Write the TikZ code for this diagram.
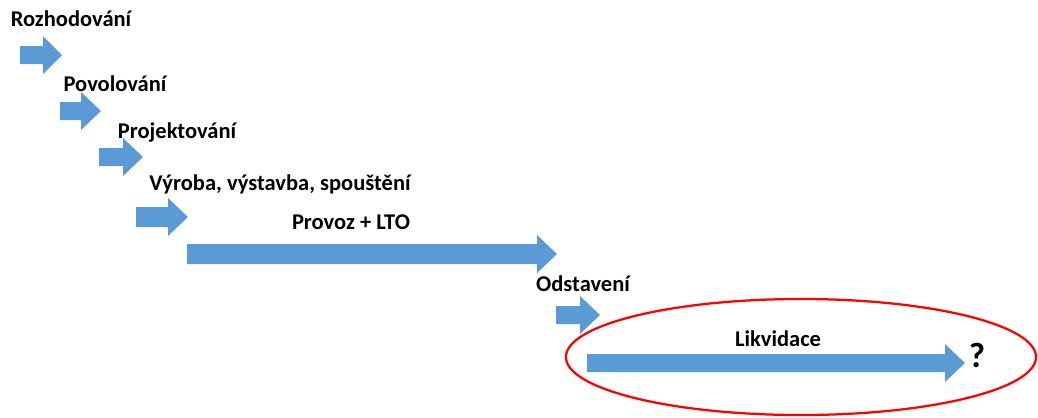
\documentclass[tikz,border=0pt]{standalone}
\usepackage{fontspec}
\setmainfont{Carlito}
\usepackage{tikz,xcolor}
\usetikzlibrary{shapes.geometric}
\definecolor{phaseblue}{RGB}{91,155,213}
\tikzset{
  phase/.style={fill=phaseblue},
  lbl/.style={font=\bfseries\fontsize{16}{19}\selectfont, inner sep=0pt}
}

\begin{document}
\begin{tikzpicture}[x=0.025cm,y=-0.025cm]
  \useasboundingbox (0,0) rectangle (1038,417);

  % Phase labels
  \node[lbl] (rozh) at (71,19) {Rozhodování};
  \node[lbl] (povo) at (115,84) {Povolování};
  \node[lbl] (proj) at (177,132) {Projektování};
  \node[lbl] (vyro) at (280,184) {Výroba, výstavba, spouštění};
  \node[lbl] (prov) at (351,222) {Provoz + LTO};
  \node[lbl] (odst) at (583,284) {Odstavení};
  \node[lbl] (likv) at (778,339) {Likvidace};
  \node[lbl,font=\bfseries\fontsize{25}{28}\selectfont] (otaz) at (977,355) {?};

  % Short arrows
  \fill[phase] (20,46) -- (43,46) -- (43,36) -- (62,55) -- (43,74) -- (43,64) -- (20,64) -- cycle;
  \fill[phase] (60,102) -- (81,102) -- (81,92) -- (101,111) -- (81,130) -- (81,120) -- (60,120) -- cycle;
  \fill[phase] (99,148) -- (123,148) -- (123,138) -- (143,157) -- (123,176) -- (123,166) -- (99,166) -- cycle;
  \fill[phase] (136,207) -- (168,207) -- (168,198) -- (188,217) -- (168,236) -- (168,227) -- (136,227) -- cycle;

  % Long arrow for operation
  \fill[phase] (187,244) -- (537,244) -- (537,235) -- (557,254) -- (537,273) -- (537,264) -- (187,264) -- cycle;

  % Shutdown and decommissioning
  \fill[phase] (556,306) -- (580,306) -- (580,296) -- (600,315) -- (580,334) -- (580,324) -- (556,324) -- cycle;
  \fill[phase] (587,354) -- (945,354) -- (945,344) -- (965,363) -- (945,382) -- (945,372) -- (587,372) -- cycle;

  % Red ellipse round the last phase
  \node[ellipse, draw=red, line width=1.6pt, minimum width=11.75cm, minimum height=2.9cm] (kruh) at (801,357) {};

\end{tikzpicture}
\end{document}
